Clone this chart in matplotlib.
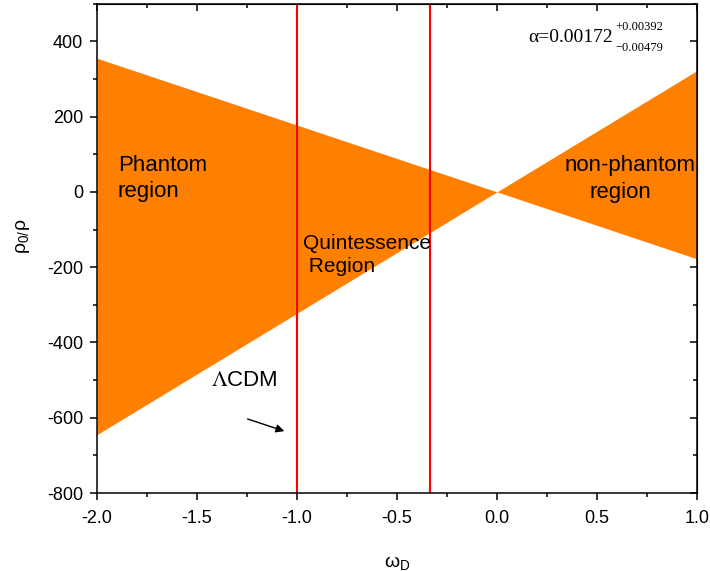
import numpy as np
import matplotlib.pyplot as plt
from matplotlib.ticker import MultipleLocator

plt.rcParams['font.family'] = ['Liberation Sans', 'DejaVu Sans']
plt.rcParams['mathtext.fontset'] = 'custom'
plt.rcParams['mathtext.rm'] = 'Liberation Sans'
plt.rcParams['mathtext.it'] = 'Liberation Sans:italic'

# data
omega = [-2.0, 0.0, 1.0]
upper = [355, 0, 322]
lower = [-645, 0, -178]
vlines = [-1.0, -1.0 / 3.0]

fig = plt.figure(figsize=(7.1, 5.71), dpi=100)
ax = fig.add_axes([0.1366, 0.1366, 0.845, 0.857])

ax.fill_between(omega, lower, upper, color='#FF8000', linewidth=0)
for xv in vlines:
    ax.axvline(xv, color='#FF0000', lw=1.5)

ax.set_xlim(-2, 1)
ax.set_ylim(-800, 500)
ax.xaxis.set_major_locator(MultipleLocator(0.5))
ax.xaxis.set_minor_locator(MultipleLocator(0.25))
ax.yaxis.set_major_locator(MultipleLocator(200))
ax.yaxis.set_minor_locator(MultipleLocator(100))
ax.xaxis.set_major_formatter(plt.FuncFormatter(lambda v, p: f"{v:.1f}"))
ax.yaxis.set_major_formatter(plt.FuncFormatter(lambda v, p: f"{v:.0f}"))
ax.tick_params(which='both', direction='out', top=False, right=False, labelsize=13, width=1.1)
ax.tick_params(which='major', length=5)
ax.tick_params(which='minor', length=3)
ax.tick_params(axis='x', pad=7)
ax.tick_params(axis='y', pad=5)
for s in ax.spines.values():
    s.set_linewidth(1.1)
sec_x = ax.secondary_xaxis('top')
sec_x.xaxis.set_major_locator(MultipleLocator(0.5))
sec_x.xaxis.set_minor_locator(MultipleLocator(0.25))
sec_x.tick_params(which='both', direction='in', labeltop=False, width=1.1)
sec_x.tick_params(which='major', length=5)
sec_x.tick_params(which='minor', length=3)
sec_y = ax.secondary_yaxis('right')
sec_y.yaxis.set_major_locator(MultipleLocator(200))
sec_y.yaxis.set_minor_locator(MultipleLocator(100))
sec_y.tick_params(which='both', direction='in', labelright=False, width=1.1)
sec_y.tick_params(which='major', length=5)
sec_y.tick_params(which='minor', length=3)

ax.set_xlabel(r'$\mathrm{\omega_D}$', fontsize=14)
ax.xaxis.set_label_coords(0.5, -0.125)
ax.set_ylabel(r'$\mathrm{\rho_{0/}\rho}$', fontsize=14)
ax.yaxis.set_label_coords(-0.108, 0.524)

ax.text(-1.895, 36, 'Phantom\nregion', fontsize=16, ha='left', va='center', linespacing=1.3)
ax.text(0.34, 70, 'non-phantom', fontsize=16, ha='left', va='center')
ax.text(0.615, -2, 'region', fontsize=16, ha='center', va='center')
ax.text(-0.97, -168, 'Quintessence\n Region', fontsize=15, ha='left', va='center', linespacing=1.3)
ax.text(-1.43, -500, r'$\Lambda$CDM', fontsize=16, ha='left', va='center', math_fontfamily='stix')
ax.annotate('', xy=(-1.05, -638), xytext=(-1.26, -601),
            arrowprops=dict(arrowstyle='-|>', color='black', lw=1, mutation_scale=12))

# fit parameter
ax.text(0.58, 409, 'α=0.00172', fontsize=14, ha='right', va='center', family='Liberation Serif')
ax.text(0.59, 437, '+0.00392', fontsize=9, ha='left', va='center', family='Liberation Serif')
ax.text(0.59, 381, '\u22120.00479', fontsize=9, ha='left', va='center', family='Liberation Serif')

fig.savefig('out.png', dpi=100)
